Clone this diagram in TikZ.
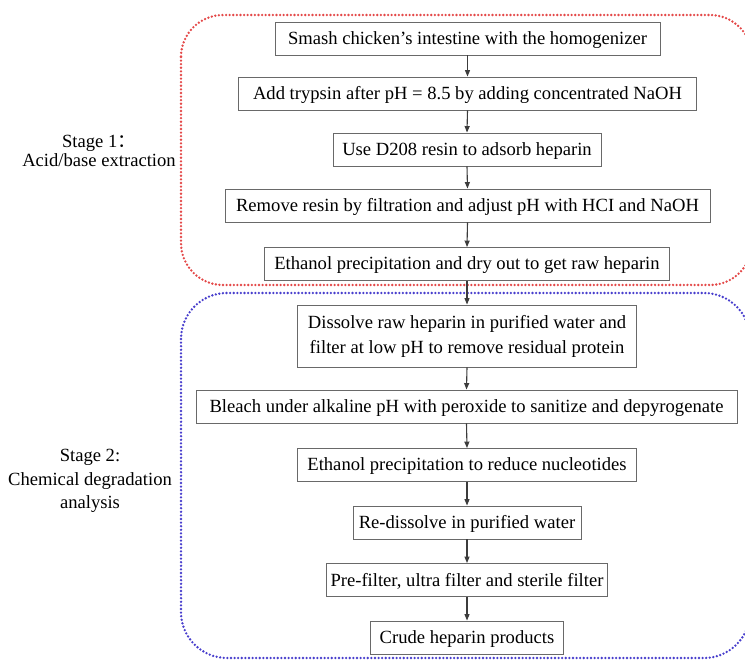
\documentclass[tikz,border=0pt]{standalone}
\usepackage{fontspec}
\setmainfont{Liberation Serif}
\newfontfamily\cjk{Noto Sans CJK SC}
\usetikzlibrary{arrows.meta}
\definecolor{redline}{RGB}{228,72,72}
\definecolor{blueline}{RGB}{72,62,205}
\definecolor{boxline}{RGB}{105,105,105}
\definecolor{arrowc}{RGB}{60,60,60}
\tikzset{
  boxbase/.style={draw=boxline, line width=0.9pt, minimum height=33pt, inner sep=0pt, fill=white},
  stepbox/.style={boxbase, font=\fontsize{18.6}{25}\selectfont, text height=13pt, text depth=1pt},
  twolinebox/.style={boxbase, font=\fontsize{18.6}{25}\selectfont, align=center},
  flow/.style={draw=arrowc, line width=1.1pt, -{Triangle[length=6.5pt,width=5pt]}},
  reddots/.style={draw=redline, line width=2.6pt, line cap=round, dash pattern=on 0pt off 3.6pt, rounded corners=42pt},
  bluedots/.style={draw=blueline, line width=2.6pt, line cap=round, dash pattern=on 0pt off 3.6pt, rounded corners=46pt},
  stageone/.style={font=\fontsize{18.6}{19.5}\selectfont, align=center},
  stagetwo/.style={font=\fontsize{18.6}{23.5}\selectfont, align=center}
}
\begin{document}
\begin{tikzpicture}[x=1pt,y=-1pt]
\useasboundingbox (0,0) rectangle (745,660);
\path[fill=white] (0,0) rectangle (745,660);
\draw[reddots] (181,15) rectangle (752,285);
\draw[bluedots] (181,293) rectangle (750,658);

\node[stepbox, minimum width=385pt] (b1) at (467.5,38.5) {Smash chicken’s intestine with the homogenizer};
\node[stepbox, minimum width=458pt] (b2) at (467.5,93.5) {Add trypsin after pH = 8.5 by adding concentrated NaOH};
\node[stepbox, minimum width=268pt] (b3) at (467,149.5) {Use D208 resin to adsorb heparin};
\node[stepbox, minimum width=485pt] (b4) at (467.5,205.5) {Remove resin by filtration and adjust pH with HCI and NaOH};
\node[stepbox, minimum width=405pt] (b5) at (467,264) {Ethanol precipitation and dry out to get raw heparin};
\node[twolinebox, minimum width=339pt, minimum height=62pt] (b6) at (467,336) {Dissolve raw heparin in purified water and\\filter at low pH to remove residual protein};
\node[stepbox, minimum width=541pt] (b7) at (466.5,406.5) {Bleach under alkaline pH with peroxide to sanitize and depyrogenate};
\node[stepbox, minimum width=339pt] (b8) at (467,465) {Ethanol precipitation to reduce nucleotides};
\node[stepbox, minimum width=228pt] (b9) at (467,522.5) {Re-dissolve in purified water};
\node[stepbox, minimum width=281pt] (b10) at (467,580) {Pre-filter, ultra filter and sterile filter};
\node[stepbox, minimum width=193pt] (b11) at (467,637.5) {Crude heparin products};

\foreach \a/\b in {b1/b2,b2/b3,b3/b4,b4/b5,b5/b6,b6/b7,b7/b8,b8/b9,b9/b10,b10/b11}
  \draw[flow] (\a.south) -- (\b.north);

\node[stageone] (s1) at (99,151) {Stage 1{\cjk ：}\\Acid/base extraction};
\node[stagetwo] (s2) at (90,481) {Stage 2:\\Chemical degradation\\analysis};
\end{tikzpicture}
\end{document}
